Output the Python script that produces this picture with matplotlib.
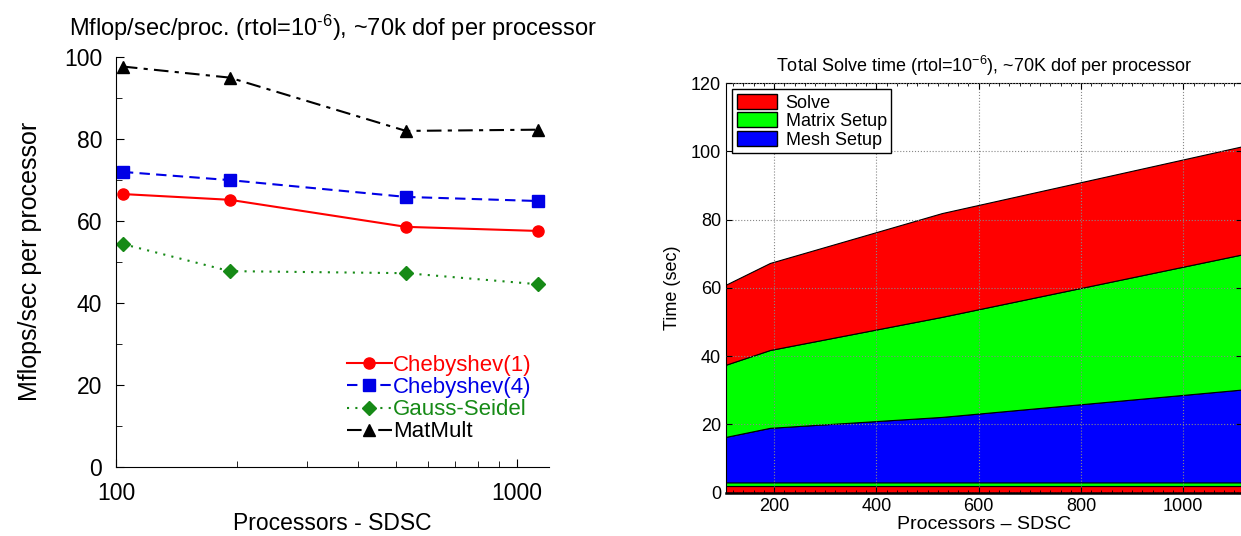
import matplotlib
matplotlib.use('Agg')
import matplotlib.pyplot as plt
from matplotlib.patches import Patch
from matplotlib.ticker import MultipleLocator, FixedLocator, NullFormatter

plt.rcParams['font.family'] = ['Liberation Sans', 'DejaVu Sans']
plt.rcParams['mathtext.fontset'] = 'custom'
plt.rcParams['mathtext.rm'] = 'Liberation Sans'
plt.rcParams['mathtext.it'] = 'Liberation Sans'

# Processor counts (SDSC)
procs = [104, 192, 528, 1128]

# Left panel: Mflop/sec per processor
cheb1 = [66.5, 65.1, 58.5, 57.5]
cheb4 = [71.9, 69.9, 65.8, 64.8]
gauss_seidel = [54.3, 47.7, 47.2, 44.5]
matmult = [97.6, 94.9, 81.9, 82.2]

# Right panel: stacked solve time components (sec)
base_red = [1.9, 1.9, 1.9, 1.9]
base_green = [1.1, 1.1, 1.1, 1.1]
mesh_setup = [13.3, 16.0, 19.2, 27.4]
matrix_setup = [21.1, 22.8, 29.3, 39.8]
solve = [23.4, 25.5, 30.4, 31.7]

fig = plt.figure(figsize=(12.41, 5.36), dpi=100)

# ---- left panel ----
ax1 = fig.add_axes([0.0935, 0.1293, 0.3489, 0.7649])
green = '#168a16'
ax1.plot(procs, cheb1, color='red', lw=1.5, marker='o', ms=8, label='Chebyshev(1)')
ax1.plot(procs, cheb4, color='#0000e6', lw=1.5, ls=(0, (5, 3)), marker='s', ms=8, label='Chebyshev(4)')
ax1.plot(procs, gauss_seidel, color=green, lw=1.5, ls=(0, (1, 3)), marker='D', ms=7, label='Gauss-Seidel')
ax1.plot(procs, matmult, color='black', lw=1.5, ls=(0, (7, 3, 2, 3)), marker='^', ms=8, label='MatMult')
ax1.set_xscale('log')
ax1.set_xlim(100, 1200)
ax1.set_ylim(0, 100)
ax1.spines['top'].set_visible(False)
ax1.spines['right'].set_visible(False)
ax1.set_xticks([100, 1000])
ax1.set_xticklabels(['100', '1000'])
ax1.xaxis.set_minor_locator(FixedLocator([200, 300, 400, 500, 600, 700, 800, 900]))
ax1.xaxis.set_minor_formatter(NullFormatter())
ax1.yaxis.set_major_locator(MultipleLocator(20))
ax1.yaxis.set_minor_locator(MultipleLocator(10))
ax1.tick_params(which='both', direction='in', labelsize=16.5)
ax1.tick_params(which='major', length=6)
ax1.tick_params(which='minor', length=4)
ax1.tick_params(axis='x', pad=11)
ax1.tick_params(axis='y', pad=10)
ax1.set_xlabel('Processors - SDSC', fontsize=16.5, labelpad=5)
ax1.set_ylabel('Mflops/sec per processor', fontsize=18, labelpad=16)
ax1.set_title(r'Mflop/sec/proc. (rtol=10$^{\text{-6}}$), ~70k dof per processor',
              fontsize=17, pad=15)
leg = ax1.legend(loc='upper left', bbox_to_anchor=(336 / 1241, 1 - 344 / 536),
                 bbox_transform=fig.transFigure, frameon=False, fontsize=16,
                 handlelength=2.0, handletextpad=0.05, labelspacing=0.05, borderpad=0)
for txt, line in zip(leg.get_texts(), leg.get_lines()):
    txt.set_color(line.get_color())

# ---- right panel ----
ax2 = fig.add_axes([0.585, 0.0808, 0.4155, 0.7643])
ax2.stackplot(procs, base_red, base_green, mesh_setup, matrix_setup, solve,
              colors=['#ff0000', '#00ff00', '#0000ff', '#00ff00', '#ff0000'],
              edgecolor='black', linewidth=0.8)
ax2.set_xlim(106, 1114)
ax2.set_ylim(0, 120)
ax2.xaxis.set_major_locator(MultipleLocator(200))
ax2.xaxis.set_minor_locator(MultipleLocator(20))
ax2.yaxis.set_major_locator(MultipleLocator(20))
ax2.grid(True, which='major', ls=':', color='#888888', lw=0.8)
ax2.set_axisbelow(False)
ax2.spines['bottom'].set_linewidth(1.8)
ax2.tick_params(which='both', direction='in', top=True, right=True, labelsize=13)
ax2.tick_params(which='major', length=4)
ax2.tick_params(which='minor', length=2)
ax2.set_xlabel('Processors \u2013 SDSC', fontsize=14, labelpad=1)
ax2.set_ylabel('Time (sec)', fontsize=13, labelpad=7)
ax2.set_title(r'Total Solve time (rtol=10$^{-6}$), ~70K dof per processor', fontsize=13, pad=8)
handles = [Patch(facecolor='#ff0000', edgecolor='black', label='Solve'),
           Patch(facecolor='#00ff00', edgecolor='black', label='Matrix Setup'),
           Patch(facecolor='#0000ff', edgecolor='black', label='Mesh Setup')]
ax2.legend(handles=handles, loc='upper left', fontsize=13, fancybox=False,
           edgecolor='black', framealpha=1, handlelength=2.2, handleheight=0.9,
           handletextpad=0.5, labelspacing=0.05, borderpad=0.25, borderaxespad=0.35)

fig.savefig('out.png', dpi=100)
